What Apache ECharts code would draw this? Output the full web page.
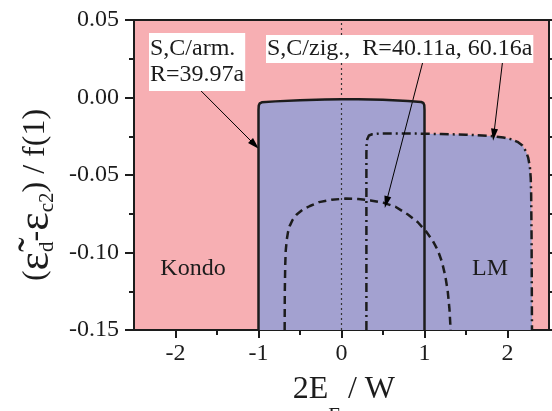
<!DOCTYPE html>
<html><head><meta charset="utf-8">
<script src="https://cdn.jsdelivr.net/npm/echarts@6/dist/echarts.min.js"></script>
<style>html,body{margin:0;padding:0;background:#fff}#c{width:552px;height:411px}</style>
</head><body><div id="c"></div>
<script>
// ---- data ----
// S,C/arm. R=39.97a (solid)
const armX = [-1, -1, -0.997, -0.985, -0.96, -0.8, -0.5, -0.2, 0, 0.2, 0.5, 0.8, 0.96, 0.985, 0.997, 1, 1];
const armY = [-0.15, -0.008, -0.0052, -0.0038, -0.0031, -0.0025, -0.0017, -0.0013, -0.0012, -0.0012, -0.0015, -0.0022, -0.0029, -0.0035, -0.0048, -0.008, -0.15];
// S,C/zig. R=40.11a (dashed)
const zig40X = [-0.685, -0.683, -0.678, -0.672, -0.66, -0.645, -0.625, -0.59, -0.54, -0.47, -0.38, -0.27, -0.12, 0.05, 0.2, 0.35, 0.5, 0.65, 0.8, 0.92, 1.02, 1.1, 1.16, 1.21, 1.25, 1.28, 1.30, 1.315];
const zig40Y = [-0.15, -0.125, -0.108, -0.099, -0.092, -0.087, -0.083, -0.079, -0.0755, -0.0725, -0.070, -0.0675, -0.066, -0.0652, -0.0655, -0.0664, -0.0678, -0.0705, -0.0755, -0.0805, -0.0865, -0.0925, -0.0985, -0.106, -0.115, -0.125, -0.136, -0.15];
// S,C/zig. R=60.16a (dash-dot)
const zig60X = [0.30, 0.30, 0.302, 0.31, 0.33, 0.37, 0.45, 0.6, 0.9, 1.2, 1.5, 1.8, 1.95, 2.05, 2.12, 2.18, 2.225, 2.25, 2.27, 2.28, 2.285, 2.29, 2.295];
const zig60Y = [-0.15, -0.036, -0.031, -0.027, -0.0245, -0.0237, -0.0233, -0.0232, -0.0233, -0.0236, -0.024, -0.0248, -0.0258, -0.027, -0.0286, -0.031, -0.035, -0.039, -0.045, -0.052, -0.062, -0.09, -0.15];
const zeroRefX = 0;
// tick labels
const xTicks = [-2, -1, 0, 1, 2];
const xMinorTicks = [-1.5, -0.5, 0.5, 1.5];
const yTickStep = 0.05;
// annotation arrows: [fromX, fromY, toX, toY]
const arrowArm = [-1.71, 0.0052, -1.045, -0.0305];
const arrowZig40 = [0.98, 0.023, 0.54, -0.0675];
const arrowZig60 = [1.94, 0.023, 1.835, -0.0240];
const labelArm = 'S,C/arm.\nR=39.97a';
const labelZig = 'S,C/zig.,  R=40.11a, 60.16a';
const regionNames = ['Kondo', 'LM'];

// ---- chart ----
const FONT = '"Liberation Serif", "Times New Roman", serif';
const INK = '#1c1c1c';
const BLUE = '#A3A1D0';
const PINK = '#F7AFB3';
const zip = (xs, ys) => xs.map((x, i) => [x, ys[i]]);
const arrowItem = a => [
  { coord: [a[0], a[1]], symbol: 'none' },
  { coord: [a[2], a[3]], symbol: 'path://M0,0L5,16L-5,16Z', symbolSize: [7, 12] }
];
const fillSeries = (xs, ys) => ({
  type: 'line', data: zip(xs, ys), symbol: 'none', silent: true, z: 2,
  lineStyle: { width: 0 }, areaStyle: { color: BLUE, opacity: 1, origin: 'start' }
});
const lineSeries = (xs, ys, type, z) => ({
  type: 'line', data: zip(xs, ys), symbol: 'none', silent: true, z: z,
  lineStyle: { color: INK, width: 2.5, type: type, cap: 'butt' }
});
const axisLine = { onZero: false, lineStyle: { color: INK, width: 2 } };
const tickStyle = { color: INK, width: 2 };
const yFmt = v => (Math.abs(v) < 1e-9 ? 0 : v).toFixed(2);

const chart = echarts.init(document.getElementById('c'), null, { renderer: 'canvas' });
chart.setOption({
  animation: false,
  backgroundColor: '#fff',
  grid: { left: 134, right: 3, top: 20, bottom: 81, show: true, backgroundColor: PINK, borderWidth: 0, containLabel: false, outerBoundsMode: 'none' },
  xAxis: [
    { type: 'value', min: -2.5, max: 2.5, interval: 0.5, position: 'bottom', axisLine: axisLine,
      axisTick: { show: true, length: 8, lineStyle: tickStyle, customValues: xTicks },
      axisLabel: { customValues: xTicks, margin: 12, fontSize: 24, fontFamily: FONT, color: INK, formatter: v => String(v) },
      splitLine: { show: false } },
    { type: 'value', min: -2.5, max: 2.5, interval: 0.5, position: 'bottom', axisLine: { show: false, onZero: false },
      axisTick: { show: true, length: 5, lineStyle: tickStyle, customValues: xMinorTicks },
      axisLabel: { show: false }, splitLine: { show: false } },
    { type: 'value', min: -2.5, max: 2.5, interval: 0.5, position: 'top', axisLine: axisLine,
      axisTick: { show: false }, axisLabel: { show: false }, splitLine: { show: false } }
  ],
  yAxis: [
    { type: 'value', min: -0.15, max: 0.05, interval: yTickStep, position: 'left', axisLine: axisLine,
      axisTick: { show: true, length: 9, lineStyle: tickStyle },
      minorTick: { show: true, splitNumber: 2, length: 5, lineStyle: tickStyle },
      axisLabel: { margin: 15, fontSize: 24, fontFamily: FONT, color: INK, formatter: yFmt },
      splitLine: { show: false }, minorSplitLine: { show: false } },
    { type: 'value', min: -0.15, max: 0.05, interval: yTickStep, position: 'right', axisLine: axisLine,
      axisTick: { show: true, length: 6, lineStyle: tickStyle },
      minorTick: { show: true, splitNumber: 2, length: 4, lineStyle: tickStyle },
      axisLabel: { show: false }, splitLine: { show: false }, minorSplitLine: { show: false } }
  ],
  series: [
    fillSeries(armX, armY),
    fillSeries(zig60X, zig60Y),
    { type: 'line', data: [], z: 3, silent: true,
      markLine: { silent: true, symbol: ['none', 'none'], animation: false, label: { show: false },
        lineStyle: { color: '#333', width: 1.2, type: [2, 3] },
        data: [{ xAxis: zeroRefX }] } },
    lineSeries(zig40X, zig40Y, [8, 5], 4),
    lineSeries(zig60X, zig60Y, [9, 4, 2, 4], 4),
    Object.assign(lineSeries(armX, armY, 'solid', 5), {
      markLine: { silent: true, animation: false, label: { show: false }, emphasis: { disabled: true },
        lineStyle: { color: '#000', width: 1, type: 'solid' },
        data: [arrowItem(arrowArm), arrowItem(arrowZig40), arrowItem(arrowZig60)] } })
  ],
  graphic: [
    { type: 'text', x: 149, y: 33, z: 20, silent: true,
      style: { text: labelArm, fontSize: 24, fontFamily: FONT, fill: INK, backgroundColor: '#fff', padding: [3, 1, 3, 1], lineHeight: 26, align: 'left', verticalAlign: 'top' } },
    { type: 'text', x: 266, y: 35, z: 20, silent: true,
      style: { text: labelZig, fontSize: 24, fontFamily: FONT, fill: INK, backgroundColor: '#fff', padding: [1, 1, 1, 1], lineHeight: 26, align: 'left', verticalAlign: 'top' } },
    { type: 'text', x: 193, y: 269, z: 20, silent: true,
      style: { text: regionNames[0], fontSize: 24, fontFamily: FONT, fill: INK, align: 'center', verticalAlign: 'middle' } },
    { type: 'text', x: 490, y: 269, z: 20, silent: true,
      style: { text: regionNames[1], fontSize: 24, fontFamily: FONT, fill: INK, align: 'center', verticalAlign: 'middle' } },
    { type: 'text', x: 344, y: 374, z: 20, silent: true,
      style: { text: '{m|2E}{s|F}{m| / W}{z| }', align: 'center', verticalAlign: 'top',
        rich: {
          m: { fontSize: 32, fontFamily: FONT, fill: INK, lineHeight: 32, verticalAlign: 'top' },
          s: { fontSize: 21, fontFamily: FONT, fill: INK, lineHeight: 20, verticalAlign: 'bottom' },
          z: { fontSize: 1, lineHeight: 53 }
        } } },
    { type: 'text', x: 36, y: 195, rotation: Math.PI / 2, z: 20, silent: true,
      style: { text: '{m|(}{e|\u03B5\u0303}{s|d}{m|-}{e|\u03B5}{s|c2}{m|) / f(1)}', align: 'center', verticalAlign: 'middle',
        rich: {
          m: { fontSize: 32, fontFamily: FONT, fill: INK, lineHeight: 34, verticalAlign: 'middle' },
          e: { fontSize: 44, fontFamily: FONT, fill: INK, lineHeight: 44, verticalAlign: 'middle' },
          s: { fontSize: 21, fontFamily: FONT, fill: INK, lineHeight: 21, verticalAlign: 'bottom' }
        } } }
  ]
});
</script></body></html>
